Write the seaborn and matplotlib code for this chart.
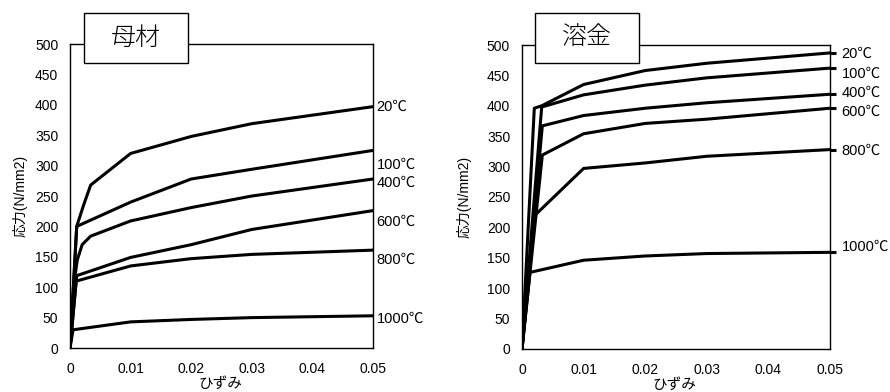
import matplotlib
matplotlib.use("Agg")
import matplotlib.pyplot as plt
import matplotlib.transforms as mtransforms
from matplotlib.patches import Rectangle
import seaborn as sns
import pandas as pd

sns.set_theme(style="white")
plt.rcParams['font.family'] = ['Liberation Sans', 'Noto Sans CJK JP', 'DejaVu Sans']

# ---------------- data ----------------
temps = ["20℃", "100℃", "400℃", "600℃", "800℃", "1000℃"]

# 母材 (base metal)
base_x = [
    [0, 0.0011, 0.0022, 0.0034, 0.01, 0.02, 0.03, 0.05],
    [0, 0.0011, 0.01, 0.02, 0.03, 0.05],
    [0, 0.0007, 0.0012, 0.002, 0.0034, 0.01, 0.02, 0.03, 0.05],
    [0, 0.0011, 0.01, 0.02, 0.03, 0.05],
    [0, 0.001, 0.01, 0.02, 0.03, 0.05],
    [0, 0.0005, 0.01, 0.02, 0.03, 0.05],
]
base_y = [
    [0, 200, 234, 268, 320, 348, 369, 397],
    [0, 200, 240, 278, 294, 325],
    [0, 110, 145, 170, 184, 209, 231, 250, 278],
    [0, 119, 149, 170, 195, 226],
    [0, 110, 135, 147, 154, 161],
    [0, 30, 43, 47, 50, 53],
]
base_label_y = [396, 302, 271, 208, 145, 48.5]

# 溶金 (weld metal)
weld_x = [
    [0, 0.002, 0.0032, 0.01, 0.02, 0.03, 0.05],
    [0, 0.0032, 0.01, 0.02, 0.03, 0.05],
    [0, 0.0033, 0.01, 0.02, 0.03, 0.05],
    [0, 0.0033, 0.01, 0.02, 0.03, 0.05],
    [0, 0.0021, 0.01, 0.02, 0.03, 0.05],
    [0, 0.0013, 0.01, 0.02, 0.03, 0.05],
]
weld_y = [
    [0, 396, 400, 435, 458, 470, 487],
    [0, 398, 418, 434, 446, 462],
    [0, 367, 384, 396, 405, 419],
    [0, 319, 354, 371, 378, 396],
    [0, 220, 297, 306, 317, 328],
    [0, 126, 146, 153, 157, 159],
]
weld_label_y = [485, 453, 421.5, 390, 326, 168]

x_ticks = [0, 0.01, 0.02, 0.03, 0.04, 0.05]
x_ticklabels = ["0", "0.01", "0.02", "0.03", "0.04", "0.05"]
y_ticks = [0, 50, 100, 150, 200, 250, 300, 350, 400, 450, 500]

xlabel = "ひずみ"
ylabel = "応力(N/mm2)"
titles = ["母材", "溶金"]


def make_df(xs, ys):
    rows = []
    for t, xx, yy in zip(temps, xs, ys):
        for i, (a, b) in enumerate(zip(xx, yy)):
            rows.append({"temp": t, "order": i, "strain": a, "stress": b})
    return pd.DataFrame(rows)


fig = plt.figure(figsize=(8.9, 3.92), dpi=100)
ax1 = fig.add_axes([0.0787, 0.1122, 0.3404, 0.7755])
ax2 = fig.add_axes([0.5865, 0.1097, 0.3461, 0.7755])

panels = [
    (ax1, base_x, base_y, base_label_y, titles[0], 1.012, False, -0.139, (0.046, 0.9375, 0.343, 0.165)),
    (ax2, weld_x, weld_y, weld_label_y, titles[1], 1.038, True, -0.163, (0.042, 0.941, 0.338, 0.164)),
]

for ax, xs, ys, label_y, title, lab_x, leaders, ylab_x, box in panels:
    df = make_df(xs, ys)
    for t in temps:
        sub = df[df["temp"] == t]
        sns.lineplot(data=sub, x="strain", y="stress", sort=False, estimator=None,
                     color="black", linewidth=2.2, ax=ax, legend=False)
    ax.set_xlim(0, 0.05)
    ax.set_ylim(0, 500)
    ax.set_xticks(x_ticks)
    ax.set_xticklabels(x_ticklabels)
    ax.set_yticks(y_ticks)
    ax.tick_params(axis="both", direction="in", length=3, width=1, colors="black",
                   labelsize=10, labelcolor="black")
    ax.tick_params(axis="x", pad=10)
    ax.tick_params(axis="y", pad=8.5)
    for s in ax.spines.values():
        s.set_visible(True)
        s.set_color("black")
        s.set_linewidth(1.0)
    ax.set_xlabel(xlabel, fontsize=10.5, color="black")
    ax.set_ylabel(ylabel, fontsize=10, color="black")
    ax.xaxis.set_label_coords(0.495, -0.095)
    ax.yaxis.set_label_coords(ylab_x, 0.5)

    trans = mtransforms.blended_transform_factory(ax.transAxes, ax.transData)
    for t, yy, ly in zip(temps, ys, label_y):
        ax.text(lab_x, ly, t, transform=trans, fontsize=10.5, va="center", ha="left",
                color="black")
        if leaders:
            ax.plot([1.0, 1.0185], [yy[-1], yy[-1]], transform=trans, color="black",
                    linewidth=2.2, clip_on=False, solid_capstyle="butt")

    bx, by, bw, bh = box
    rect = Rectangle((bx, by), bw, bh, transform=ax.transAxes, facecolor="white",
                     edgecolor="black", linewidth=1.0, clip_on=False, zorder=5)
    ax.add_patch(rect)
    ax.text(bx + bw / 2, by + bh / 2, title, transform=ax.transAxes, fontsize=18,
            ha="center", va="center", zorder=6, family=["Noto Sans CJK JP"],
            fontweight="light", color="black")

fig.savefig("out.png", dpi=100, facecolor="white")
